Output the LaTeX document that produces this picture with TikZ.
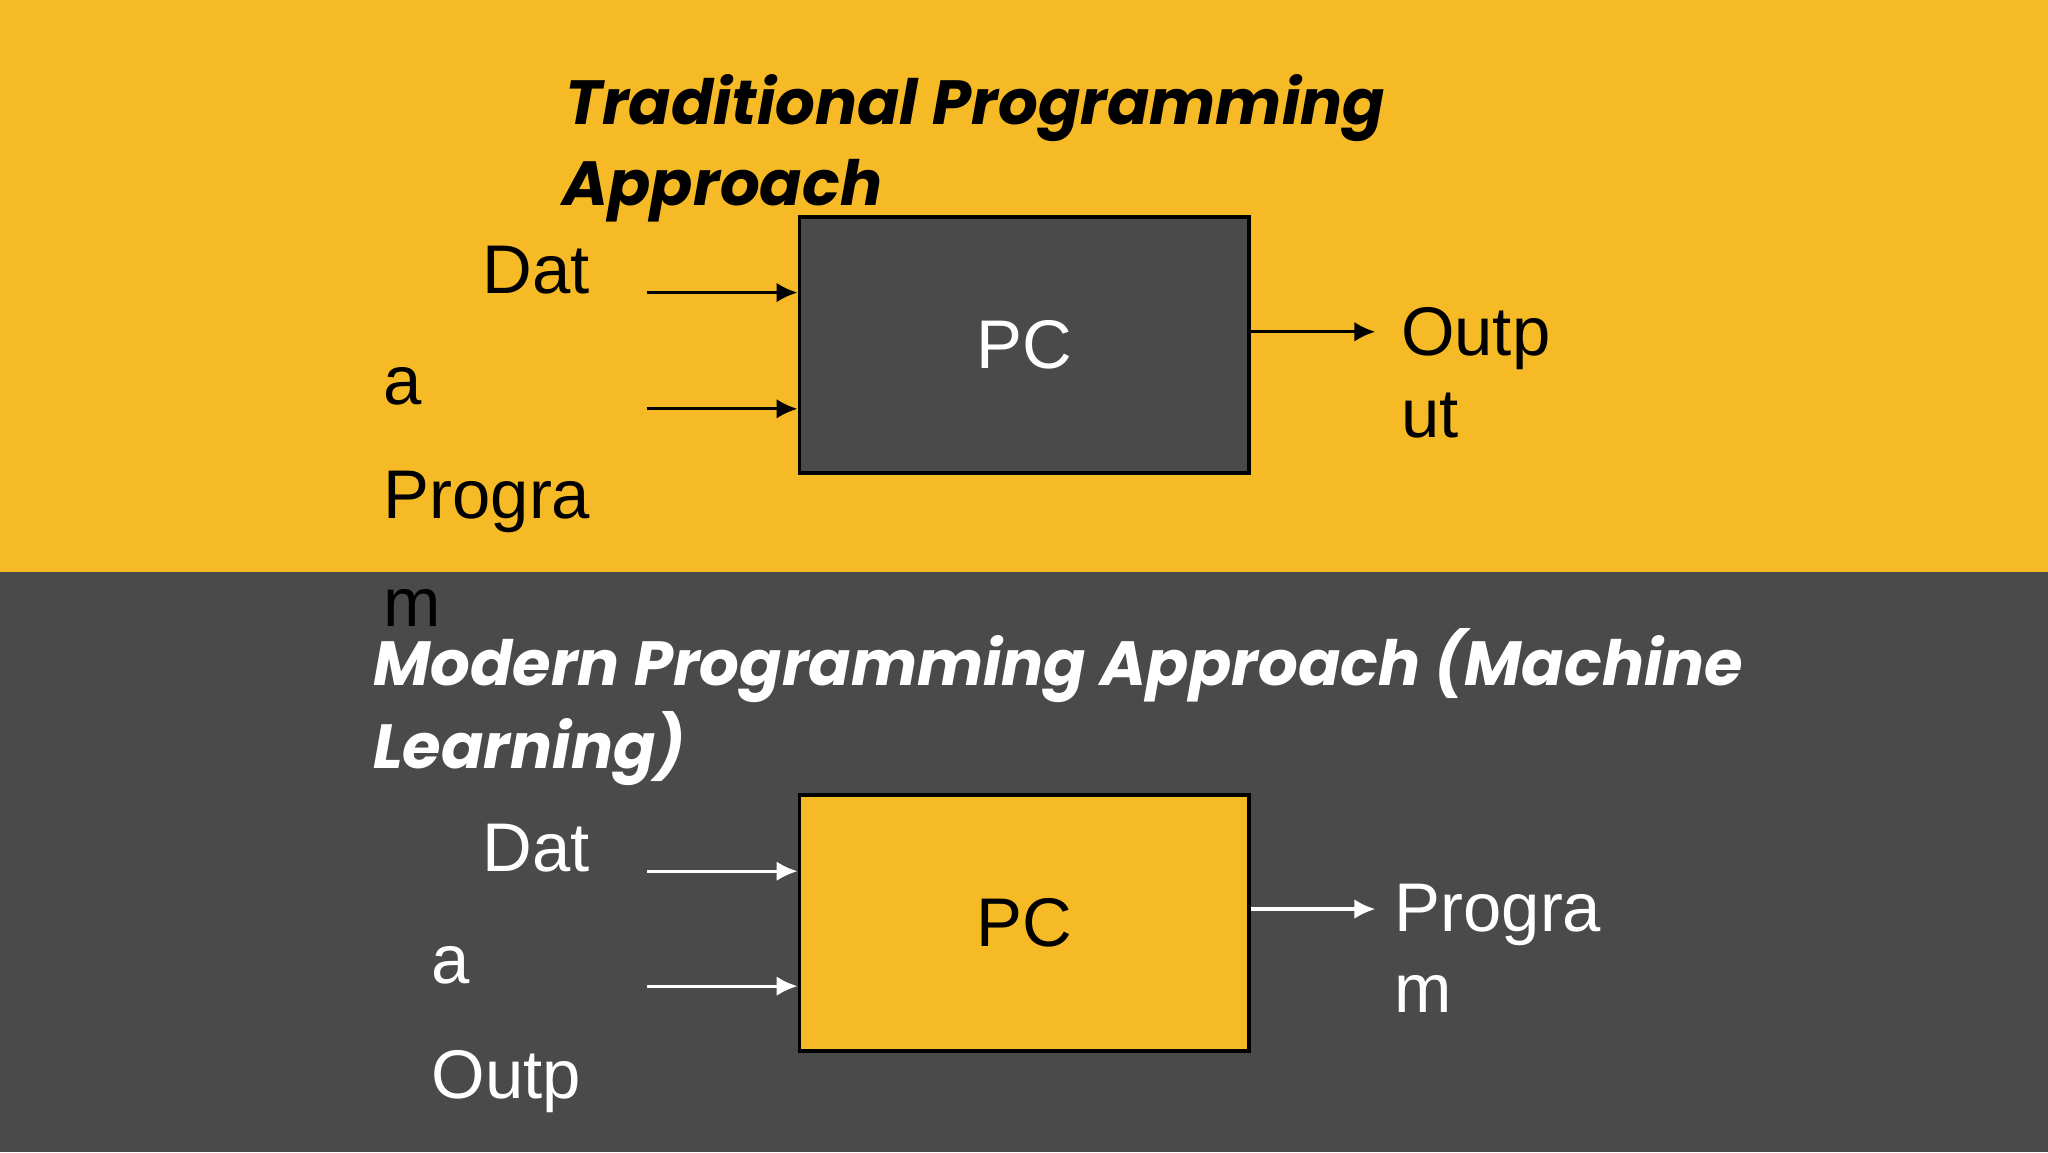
\documentclass[tikz,border=0pt]{standalone}
\usepackage{fontspec}
\setmainfont{Liberation Sans}
\newfontfamily\titlefont{Poppins}
\usetikzlibrary{arrows.meta}
\definecolor{bandyellow}{HTML}{F6BA26}
\definecolor{banddark}{HTML}{4A4A4A}
\tikzset{
  lbl/.style={anchor=base west, inner sep=0pt, font=\fontsize{15pt}{18pt}\selectfont},
  ttl/.style={anchor=base west, inner sep=0pt, font=\titlefont\bfseries\itshape\fontsize{13.6pt}{18pt}\selectfont},
  pcbox/.style={draw=black, line width=0.8pt, minimum width=3.44cm, minimum height=1.96cm,
                font=\fontsize{15pt}{18pt}\selectfont},
  feed/.style={-{Latex[length=1.6mm,width=1.5mm]}, line width=0.7pt},
}
\begin{document}
\begin{tikzpicture}
\useasboundingbox (0,0) rectangle (15.68,8.82);
% bands
\fill[bandyellow] (0,4.44) rectangle (15.68,8.82);
\fill[banddark] (0,0) rectangle (15.68,4.44);

%% traditional
\node[ttl] (ttlA) at (4.32,7.87) {Traditional Programming};
\node[ttl] (ttlB) at (4.30,7.25) {Approach};
\node[pcbox, fill=banddark, text=white] (pcA) at (7.84,6.18) {PC};
\node[lbl] (datA) at (3.69,6.57) {Dat};
\node[lbl] (aA) at (2.93,5.72) {a};
\node[lbl] (progA) at (2.93,4.85) {Progra};
\node[lbl] (mA) at (2.93,4.02) {m};
\node[lbl] (outA) at (10.72,6.10) {Outp};
\node[lbl] (utA) at (10.72,5.47) {ut};
\coordinate (inA1) at (4.95,6.58);
\coordinate (inA2) at (4.95,5.69);
\coordinate (endA) at (10.53,6.28);
\draw[feed] (inA1) -- (inA1 -| pcA.west);
\draw[feed] (inA2) -- (inA2 -| pcA.west);
\draw[feed] (endA -| pcA.east) -- (endA);

%% machine learning
\node[ttl, text=white] (ttlC) at (2.85,3.57) {Modern Programming Approach (Machine};
\node[ttl, text=white] (ttlD) at (2.85,2.94) {Learning)};
\node[pcbox, fill=bandyellow, text=black] (pcB) at (7.84,1.755) {PC};
\node[lbl, text=white] (datB) at (3.69,2.15) {Dat};
\node[lbl, text=white] (aB) at (3.30,1.29) {a};
\node[lbl, text=white] (outB) at (3.30,0.41) {Outp};
\node[lbl, text=white] (progB) at (10.67,1.69) {Progra};
\node[lbl, text=white] (mB) at (10.67,1.07) {m};
\coordinate (inB1) at (4.95,2.15);
\coordinate (inB2) at (4.95,1.27);
\coordinate (endB) at (10.53,1.86);
\draw[feed, white] (inB1) -- (inB1 -| pcB.west);
\draw[feed, white] (inB2) -- (inB2 -| pcB.west);
\draw[feed, white] (endB -| pcB.east) -- (endB);
\end{tikzpicture}
\end{document}
